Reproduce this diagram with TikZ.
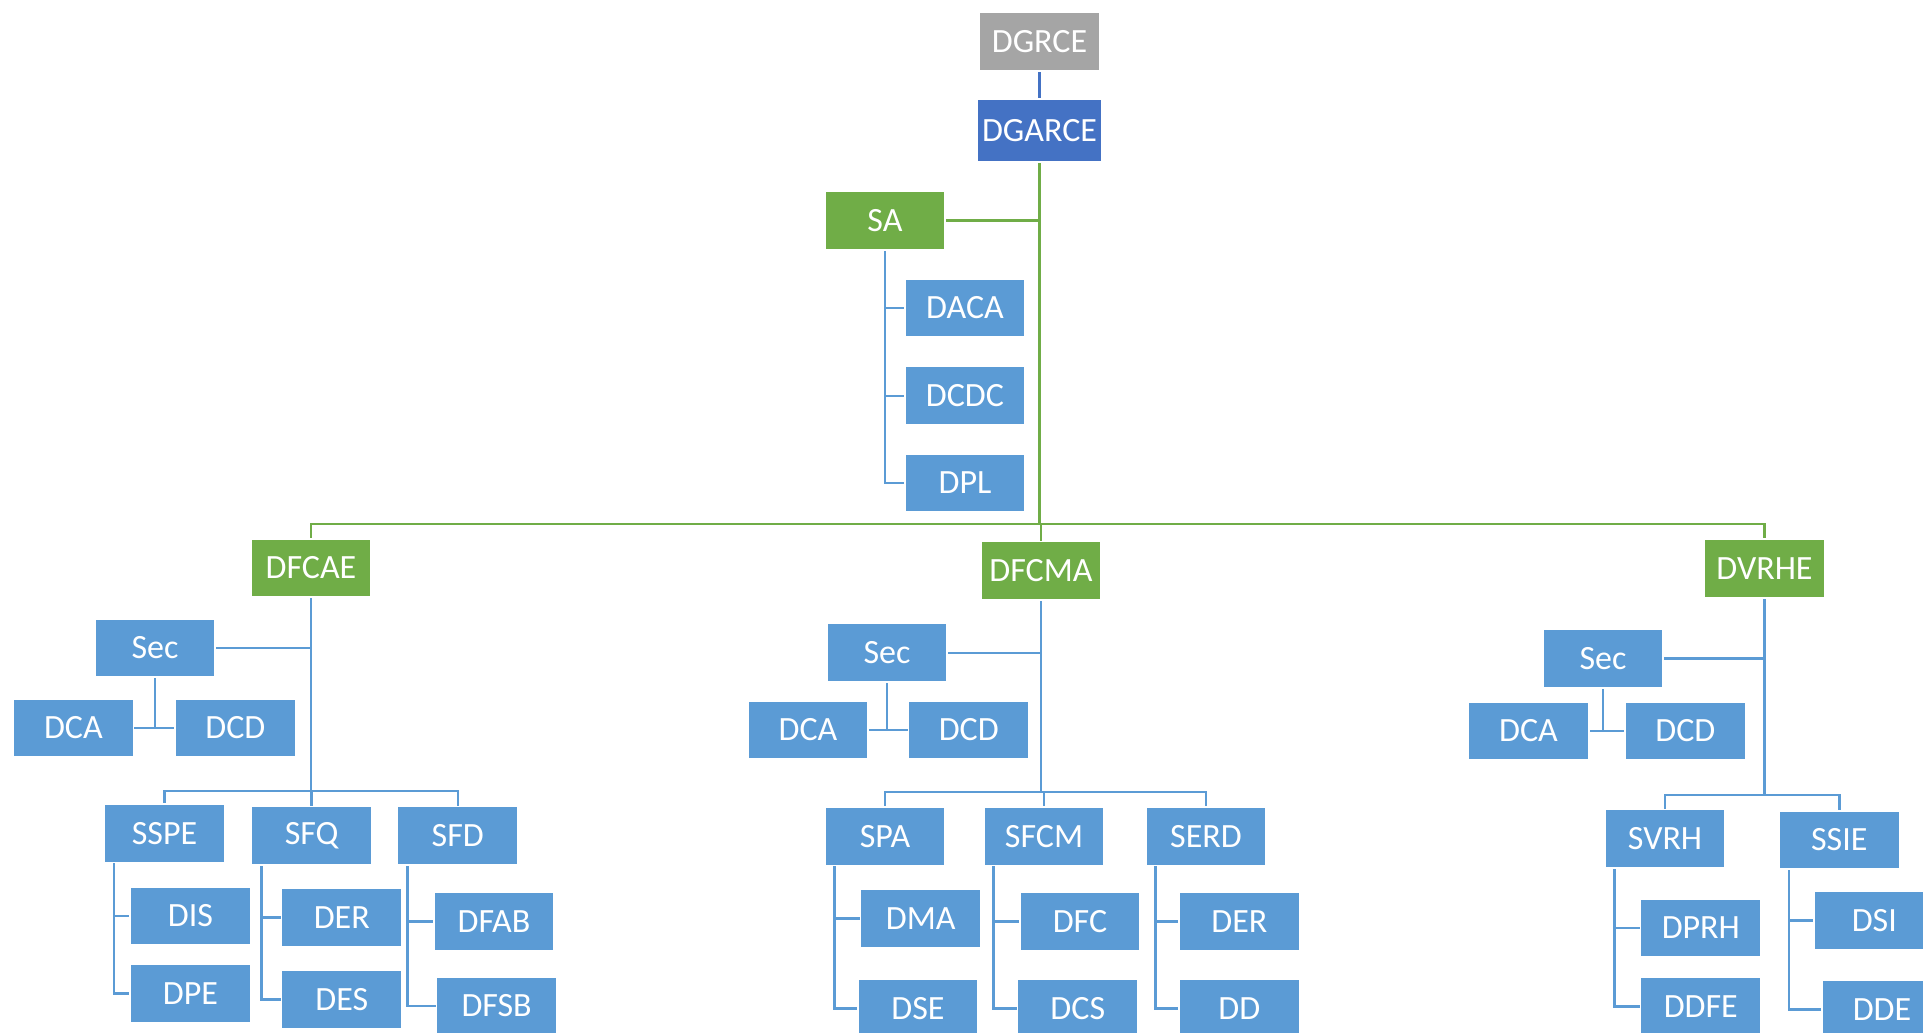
\documentclass[tikz,border=0pt]{standalone}
\usepackage{fontspec}
\setmainfont{Carlito}
\usetikzlibrary{backgrounds}
\definecolor{boxblue}{HTML}{5B9BD5}
\definecolor{darkblue}{HTML}{4472C4}
\definecolor{boxgreen}{HTML}{70AD47}
\definecolor{boxgray}{HTML}{A5A5A5}
\tikzset{
  orgbox/.style={minimum width=60.25pt, minimum height=29.25pt, inner sep=0pt,
    fill=boxblue, draw=white, line width=0.8pt, text=white,
    font=\fontsize{17}{20}\selectfont},
  greenbox/.style={orgbox, fill=boxgreen},
  bline/.style={draw=boxblue, line width=1.3pt},
  gline/.style={draw=boxgreen, line width=1.3pt},
}
\begin{document}
\begin{tikzpicture}[x=0.5pt,y=-0.5pt]
\useasboundingbox (0,0) rectangle (1923,1033);
\clip (0,0) rectangle (1923,1033);
% top
\node[orgbox, fill=boxgray] (DGRCE) at (1039.5,41.5) {DGRCE};
\node[orgbox, fill=darkblue, minimum width=62.5pt, minimum height=31.5pt] (DGARCE) at (1039.5,130.5) {DGARCE};
\node[greenbox] (SA) at (885,220.5) {SA};
\node[orgbox] (DACA) at (965,308) {DACA};
\node[orgbox] (DCDC) at (965,395.8) {DCDC};
\node[orgbox] (DPL) at (965,483) {DPL};
\node[greenbox] (DFCAE) at (311,568) {DFCAE};
\node[greenbox] (DFCMA) at (1041,570.7) {DFCMA};
\node[greenbox] (DVRHE) at (1764.5,568.5) {DVRHE};
% left branch
\node[orgbox] (SecA) at (155,648) {Sec};
\node[orgbox] (DCAa) at (73.4,728) {DCA};
\node[orgbox] (DCDa) at (235.4,728) {DCD};
\node[orgbox] (SSPE) at (164.5,833.3) {SSPE};
\node[orgbox] (SFQ) at (311.7,835.6) {SFQ};
\node[orgbox] (SFD) at (457.8,835.6) {SFD};
\node[orgbox] (DIS) at (190.4,916) {DIS};
\node[orgbox] (DPE) at (190.4,993.5) {DPE};
\node[orgbox] (DERa) at (341.8,917.6) {DER};
\node[orgbox] (DES) at (341.8,999.5) {DES};
\node[orgbox] (DFAB) at (494,921.2) {DFAB};
\node[orgbox] (DFSB) at (496.6,1006) {DFSB};
% middle branch
\node[orgbox] (SecB) at (887,652.8) {Sec};
\node[orgbox] (DCAb) at (808,730) {DCA};
\node[orgbox] (DCDb) at (968.8,730) {DCD};
\node[orgbox] (SPA) at (885,836.2) {SPA};
\node[orgbox] (SFCM) at (1044,836.2) {SFCM};
\node[orgbox] (SERD) at (1206,836.2) {SERD};
\node[orgbox] (DMA) at (920.7,918.7) {DMA};
\node[orgbox] (DSE) at (918,1008.6) {DSE};
\node[orgbox] (DFC) at (1080,921.3) {DFC};
\node[orgbox] (DCS) at (1077.8,1008.6) {DCS};
\node[orgbox] (DERb) at (1239.4,921.3) {DER};
\node[orgbox] (DD) at (1239.4,1008.6) {DD};
% right branch
\node[orgbox] (SecC) at (1603,658.5) {Sec};
\node[orgbox] (DCAc) at (1528.5,731) {DCA};
\node[orgbox] (DCDc) at (1685.4,731) {DCD};
\node[orgbox] (SVRH) at (1665,838.8) {SVRH};
\node[orgbox] (SSIE) at (1839.3,840) {SSIE};
\node[orgbox] (DPRH) at (1700.8,928) {DPRH};
\node[orgbox] (DDFE) at (1700.8,1006.6) {DDFE};
\node[orgbox] (DSI) at (1874.3,920.6) {DSI};
\node[orgbox] (DDE) at (1882,1009.3) {DDE};
% bus coordinates
\coordinate (busG) at (0,524);
\coordinate (busL) at (0,791);
\coordinate (busM) at (0,792);
\coordinate (busR) at (0,795);
\coordinate (saS) at ([xshift=0pt]SA.south);
\coordinate (sspeS) at ([xshift=5.35pt]SSPE.south west);
\coordinate (sfqS) at ([xshift=5.35pt]SFQ.south west);
\coordinate (sfdS) at ([xshift=5.35pt]SFD.south west);
\coordinate (spaS) at ([xshift=5.35pt]SPA.south west);
\coordinate (sfcmS) at ([xshift=5.35pt]SFCM.south west);
\coordinate (serdS) at ([xshift=5.35pt]SERD.south west);
\coordinate (svrhS) at ([xshift=5.35pt]SVRH.south west);
\coordinate (ssieS) at ([xshift=5.35pt]SSIE.south west);
\begin{pgfonlayer}{background}
% top
\draw[draw=darkblue, line width=1.3pt] (DGRCE.south) -- (DGARCE.north);
\draw[gline] (DGARCE.south) -- (DGARCE.south |- busG);
\draw[gline] (SA.east) -- (SA.east -| DGARCE.south);
\draw[gline] (DFCAE.north) -- (DFCAE.north |- busG) -- (DVRHE.north |- busG) -- (DVRHE.north);
\draw[gline] (DFCMA.north) -- (DFCMA.north |- busG);
% SA children
\draw[bline] (saS) |- (DPL.west);
\draw[bline] (saS |- DACA.west) -- (DACA.west);
\draw[bline] (saS |- DCDC.west) -- (DCDC.west);
% left
\draw[bline] (DFCAE.south) -- (DFCAE.south |- busL);
\draw[bline] (SecA.east) -- (SecA.east -| DFCAE.south);
\draw[bline] (SecA.south) -- (SecA.south |- DCAa.east);
\draw[bline] (DCAa.east) -- (DCDa.west);
\draw[bline] (SSPE.north) -- (SSPE.north |- busL) -- (SFD.north |- busL) -- (SFD.north);
\draw[bline] (SFQ.north) -- (SFQ.north |- busL);
\draw[bline] (sspeS) |- (DPE.west);
\draw[bline] (sspeS |- DIS.west) -- (DIS.west);
\draw[bline] (sfqS) |- (DES.west);
\draw[bline] (sfqS |- DERa.west) -- (DERa.west);
\draw[bline] (sfdS) |- (DFSB.west);
\draw[bline] (sfdS |- DFAB.west) -- (DFAB.west);
% middle
\draw[bline] (DFCMA.south) -- (DFCMA.south |- busM);
\draw[bline] (SecB.east) -- (SecB.east -| DFCMA.south);
\draw[bline] (SecB.south) -- (SecB.south |- DCAb.east);
\draw[bline] (DCAb.east) -- (DCDb.west);
\draw[bline] (SPA.north) -- (SPA.north |- busM) -- (SERD.north |- busM) -- (SERD.north);
\draw[bline] (SFCM.north) -- (SFCM.north |- busM);
\draw[bline] (spaS) |- (DSE.west);
\draw[bline] (spaS |- DMA.west) -- (DMA.west);
\draw[bline] (sfcmS) |- (DCS.west);
\draw[bline] (sfcmS |- DFC.west) -- (DFC.west);
\draw[bline] (serdS) |- (DD.west);
\draw[bline] (serdS |- DERb.west) -- (DERb.west);
% right
\draw[bline] (DVRHE.south) -- (DVRHE.south |- busR);
\draw[bline] (SecC.east) -- (SecC.east -| DVRHE.south);
\draw[bline] (SecC.south) -- (SecC.south |- DCAc.east);
\draw[bline] (DCAc.east) -- (DCDc.west);
\draw[bline] (SVRH.north) -- (SVRH.north |- busR) -- (SSIE.north |- busR) -- (SSIE.north);
\draw[bline] (svrhS) |- (DDFE.west);
\draw[bline] (svrhS |- DPRH.west) -- (DPRH.west);
\draw[bline] (ssieS) |- (DDE.west);
\draw[bline] (ssieS |- DSI.west) -- (DSI.west);
\end{pgfonlayer}
\end{tikzpicture}
\end{document}
